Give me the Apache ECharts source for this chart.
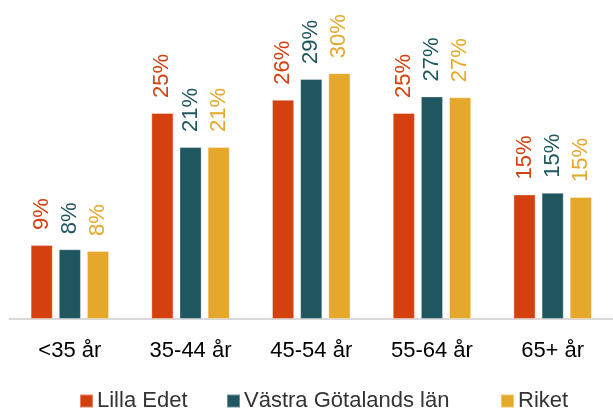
<!DOCTYPE html>
<html>
<head>
<meta charset="UTF-8">
<title>Åldersgrupper</title>
<script src="https://cdn.jsdelivr.net/npm/echarts@6/dist/echarts.min.js"></script>
<style>
  html, body { margin: 0; padding: 0; background: #fff; }
  #main { width: 613px; height: 408px; }
</style>
</head>
<body>
<div id="main"></div>
<script>
var categories = ['<35 år', '35-44 år', '45-54 år', '55-64 år', '65+ år'];
var seriesNames = ['Lilla Edet', 'Västra Götalands län', 'Riket'];
var lillaEdet = [8.9, 24.8, 26.4, 24.8, 15.0];
var vastraGotaland = [8.4, 20.7, 28.9, 26.8, 15.2];
var riket = [8.2, 20.7, 29.6, 26.7, 14.7];
var colors = ['#D5400F', '#1F5660', '#E5A82B'];

var font = '"Liberation Sans", Arial, sans-serif';

function makeSeries(name, data, color) {
    return {
        name: name,
        type: 'bar',
        data: data,
        barGap: '27%',
        barCategoryGap: '35%',
        itemStyle: {
            color: color,
            borderColor: 'rgba(255,255,255,0.35)',
            borderWidth: 1
        },
        label: {
            show: true,
            position: 'top',
            rotate: 90,
            align: 'left',
            verticalAlign: 'middle',
            distance: 15,
            color: color,
            fontFamily: font,
            fontSize: 22,
            formatter: function (p) { return Math.round(p.value) + '%'; }
        }
    };
}

// one legend per entry so each sits where it does in the original
function makeLegend(name, left) {
    return {
        data: [name],
        left: left,
        top: 385,
        icon: 'rect',
        itemWidth: 13,
        itemHeight: 13,
        itemGap: 7,
        textStyle: { fontFamily: font, fontSize: 22, color: '#333', padding: [0, 0, 0, -1] }
    };
}

var myChart = echarts.init(document.getElementById('main'));
var option = {
    animation: false,
    color: colors,
    legend: [
        makeLegend(seriesNames[0], 74),
        makeLegend(seriesNames[1], 221),
        makeLegend(seriesNames[2], 495)
    ],
    grid: { left: 9.5, right: -5.5, top: 20, bottom: 89 },
    xAxis: {
        type: 'category',
        data: categories,
        axisLine: { lineStyle: { color: '#d9d9d9', width: 2 } },
        axisTick: { show: false },
        axisLabel: { fontFamily: font, fontSize: 22, color: '#000', margin: 21 }
    },
    yAxis: {
        type: 'value',
        show: false,
        min: 0,
        max: 36,
        splitLine: { show: false }
    },
    series: [
        makeSeries(seriesNames[0], lillaEdet, colors[0]),
        makeSeries(seriesNames[1], vastraGotaland, colors[1]),
        makeSeries(seriesNames[2], riket, colors[2])
    ]
};
myChart.setOption(option);
</script>
</body>
</html>
